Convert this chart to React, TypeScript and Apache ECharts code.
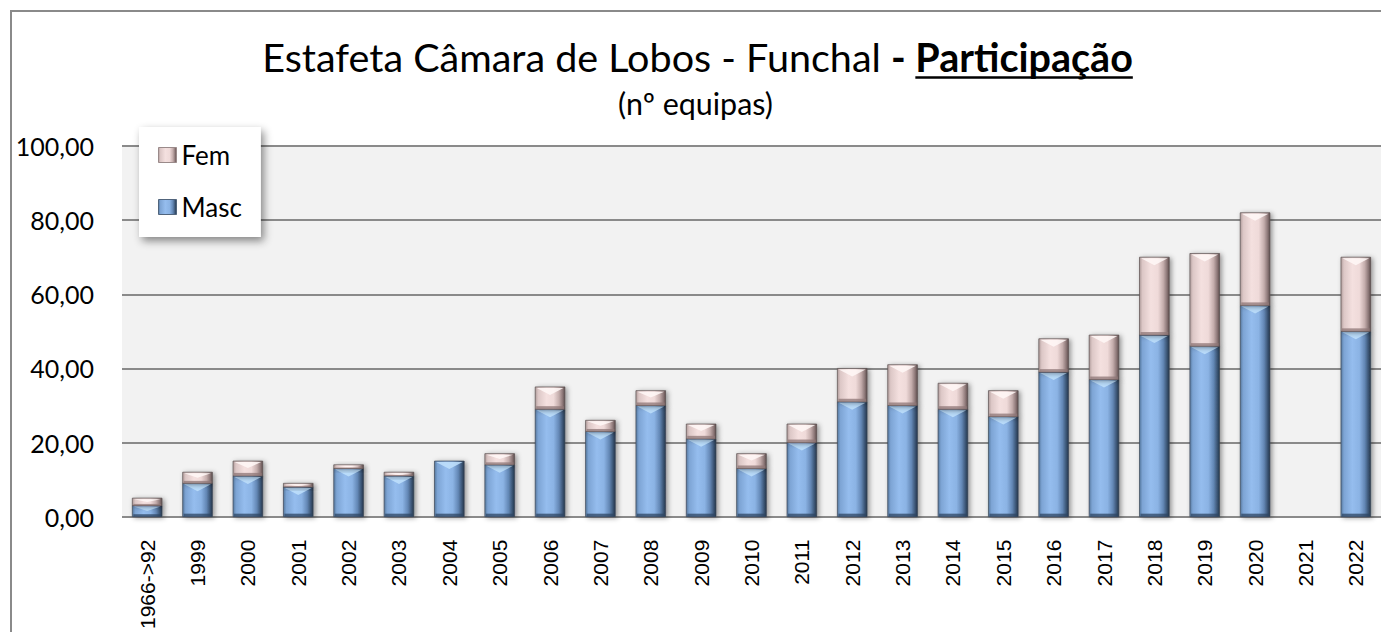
import React, { useEffect, useRef } from "react";
import * as echarts from "echarts";

// ---------- data ----------
const categories = [
  "1966->92", "1999", "2000", "2001", "2002", "2003", "2004", "2005", "2006",
  "2007", "2008", "2009", "2010", "2011", "2012", "2013", "2014", "2015",
  "2016", "2017", "2018", "2019", "2020", "2021", "2022",
];
const mascValues = [3, 9, 11, 8, 13, 11, 15, 14, 29, 23, 30, 21, 13, 20, 31, 30, 29, 27, 39, 37, 49, 46, 57, 0, 50];
const femValues = [2, 3, 4, 1, 1, 1, 0, 3, 6, 3, 4, 4, 4, 5, 9, 11, 7, 7, 9, 12, 21, 25, 25, 0, 20];
const yMin = 0;
const yMax = 100;
const yStep = 20;

const titleMain = "Estafeta Câmara de Lobos - Funchal ";
const titleDash = "- ";
const titleBold = "Participação";
const subtitle = "(nº equipas)";

// ---------- styling ----------
const W = 1381;
const H = 632;
const FONT = "Lato";

const mascGrad = () =>
  new echarts.graphic.LinearGradient(0, 0, 1, 0, [
    { offset: 0, color: "#56799f" },
    { offset: 0.1, color: "#7da4d4" },
    { offset: 0.38, color: "#95bdee" },
    { offset: 0.62, color: "#8bb3e4" },
    { offset: 0.8, color: "#6387b5" },
    { offset: 0.92, color: "#3c5676" },
    { offset: 1, color: "#24364b" },
  ]);
const femGrad = () =>
  new echarts.graphic.LinearGradient(0, 0, 1, 0, [
    { offset: 0, color: "#b09c9b" },
    { offset: 0.1, color: "#dcc7c6" },
    { offset: 0.38, color: "#f4e0df" },
    { offset: 0.62, color: "#efdad9" },
    { offset: 0.8, color: "#c4adac" },
    { offset: 0.92, color: "#8d7878" },
    { offset: 1, color: "#5d4d4d" },
  ]);

const palettes = {
  masc: { grad: mascGrad, light: "#bfe0fb", dark: "#2e4663", edge: "rgba(60,70,85,0.7)" },
  fem: { grad: femGrad, light: "#fff8f7", dark: "#8e7676", edge: "rgba(90,80,80,0.7)" },
};

const BAR_RATIO = 0.59;

function makeRender(kind: "masc" | "fem") {
  const pal = palettes[kind];
  return (params: any, api: any) => {
    const i = api.value(0) as number;
    const lo = api.value(1) as number;
    const hi = api.value(2) as number;
    if (!(hi > lo)) return null;
    const top = api.coord([i, hi]);
    const bot = api.coord([i, lo]);
    const bw = api.size([1, 0])[0] * BAR_RATIO;
    const x = top[0] - bw / 2;
    const y = top[1];
    const h = bot[1] - top[1];
    const bev = Math.min(7, h * 0.4);
    const bb = Math.min(3, h * 0.22);
    return {
      type: "group",
      children: [
        {
          type: "rect",
          shape: { x, y, width: bw, height: h },
          style: {
            fill: pal.grad(),
            stroke: pal.edge,
            lineWidth: 1,
            shadowBlur: 5,
            shadowOffsetX: 2,
            shadowOffsetY: 1,
            shadowColor: "rgba(0,0,0,0.4)",
          },
        },
        {
          type: "polygon",
          shape: {
            points: [
              [x + 1.5, y + 1],
              [x + bw - 1.5, y + 1],
              [x + bw / 2, y + 1 + bev],
            ],
          },
          style: { fill: pal.light, opacity: 0.85 },
        },
        {
          type: "rect",
          shape: { x: x + 1, y: y + h - bb, width: bw - 2, height: bb },
          style: { fill: pal.dark, opacity: 0.75 },
        },
      ],
    };
  };
}

function measure(text: string, font: string): number {
  const c = document.createElement("canvas").getContext("2d")!;
  c.font = font;
  return c.measureText(text).width;
}

export default function App() {
  const ref = useRef<HTMLDivElement>(null);

  useEffect(() => {
    if (!ref.current) return;
    const chart = echarts.init(ref.current, null, { renderer: "svg" });

    // title sizing
    const targetW = 871;
    const cx = 697.5;
    const base = 36;
    const wAt = (fs: number) =>
      measure(titleMain, `${fs}px ${FONT}`) +
      measure(titleDash, `bold ${fs}px ${FONT}`) +
      measure(titleBold, `bold ${fs}px ${FONT}`);
    const fs = (base * targetW) / wAt(base);
    const w1 = measure(titleMain, `${fs}px ${FONT}`);
    const w2 = measure(titleDash, `bold ${fs}px ${FONT}`);
    const w3 = measure(titleBold, `bold ${fs}px ${FONT}`);
    const x0 = cx - (w1 + w2 + w3) / 2;
    const titleBaseline = 72;
    const tMid = titleBaseline - 0.387 * fs;

    const sfBase = 20;
    const sfs = (sfBase * 155) / measure(subtitle, `${sfBase}px ${FONT}`);
    const sMid = 115 - 0.387 * sfs;

    const mascData = categories.map((_, i) => [i, 0, mascValues[i]]);
    const femData = categories.map((_, i) => [i, mascValues[i], mascValues[i] + femValues[i]]);

    chart.setOption({
      animation: false,
      backgroundColor: "#ffffff",
      grid: {
        left: 122,
        right: -1,
        top: 146,
        bottom: 114,
        show: true,
        backgroundColor: "#f2f2f2",
        borderWidth: 0,
        containLabel: false,
      },
      legend: {
        data: [
          { name: "Fem", itemStyle: { color: femGrad(), borderColor: "#9a8a8a", borderWidth: 1 } },
          { name: "Masc", itemStyle: { color: mascGrad(), borderColor: "#50647c", borderWidth: 1 } },
        ],
        orient: "vertical",
        left: 139,
        top: 127,
        padding: [15, 19, 17, 19],
        itemGap: 26,
        itemWidth: 18,
        itemHeight: 15,
        icon: "rect",
        backgroundColor: "#ffffff",
        shadowBlur: 8,
        shadowColor: "rgba(0,0,0,0.45)",
        shadowOffsetX: 3,
        shadowOffsetY: 4,
        textStyle: { fontFamily: FONT, fontSize: 26, color: "#000" },
        selectedMode: false,
      },
      xAxis: {
        type: "category",
        data: categories,
        boundaryGap: true,
        axisLine: {
          show: true,
          lineStyle: {
            color: "#8a8a8a",
            width: 2,
            shadowBlur: 4,
            shadowColor: "rgba(0,0,0,0.35)",
            shadowOffsetY: 2,
          },
        },
        axisTick: { show: false },
        axisLabel: {
          interval: 0,
          rotate: 90,
          margin: 23,
          fontFamily: "Liberation Sans",
          fontSize: 21,
          color: "#000",
        },
        splitLine: { show: false },
      },
      yAxis: {
        type: "value",
        min: yMin,
        max: yMax,
        interval: yStep,
        axisLine: { show: false },
        axisTick: { show: false },
        axisLabel: {
          margin: 28,
          fontFamily: FONT,
          fontSize: 25,
          color: "#000",
          formatter: (v: number) => v.toFixed(2).replace(".", ","),
        },
        splitLine: { lineStyle: { color: "#8a8a8a", width: 2 } },
      },
      series: [
        {
          name: "Masc",
          type: "custom",
          renderItem: makeRender("masc"),
          encode: { x: 0, y: [1, 2] },
          data: mascData,
          itemStyle: { color: mascGrad() },
          z: 3,
        },
        {
          name: "Fem",
          type: "custom",
          renderItem: makeRender("fem"),
          encode: { x: 0, y: [1, 2] },
          data: femData,
          itemStyle: { color: femGrad() },
          z: 3,
        },
      ],
      graphic: [
        {
          type: "rect",
          silent: true,
          shape: { x: 11, y: 11, width: 1450, height: 700 },
          style: { fill: "none", stroke: "#8a8a8a", lineWidth: 2 },
          z: 100,
        },
        {
          type: "text",
          x: x0,
          y: tMid,
          style: {
            text: titleMain,
            fontFamily: FONT,
            fontSize: fs,
            fill: "#000",
            align: "left",
            verticalAlign: "middle",
          },
        },
        {
          type: "text",
          x: x0 + w1,
          y: tMid,
          style: {
            text: titleDash,
            fontFamily: FONT,
            fontWeight: "bold",
            fontSize: fs,
            fill: "#000",
            align: "left",
            verticalAlign: "middle",
          },
        },
        {
          type: "text",
          x: x0 + w1 + w2,
          y: tMid,
          style: {
            text: titleBold,
            fontFamily: FONT,
            fontWeight: "bold",
            fontSize: fs,
            fill: "#000",
            align: "left",
            verticalAlign: "middle",
          },
        },
        {
          type: "line",
          silent: true,
          shape: { x1: x0 + w1 + w2, y1: 77.5, x2: x0 + w1 + w2 + w3, y2: 77.5 },
          style: { stroke: "#000", lineWidth: 2.5 },
        },
        {
          type: "text",
          x: 695.5,
          y: sMid,
          style: {
            text: subtitle,
            fontFamily: FONT,
            fontSize: sfs,
            fill: "#000",
            align: "center",
            verticalAlign: "middle",
          },
        },
      ],
    });

    return () => chart.dispose();
  }, []);

  return (
    <div
      ref={ref}
      style={{ position: "fixed", left: 0, top: 0, width: W, height: H, background: "#fff" }}
    />
  );
}
